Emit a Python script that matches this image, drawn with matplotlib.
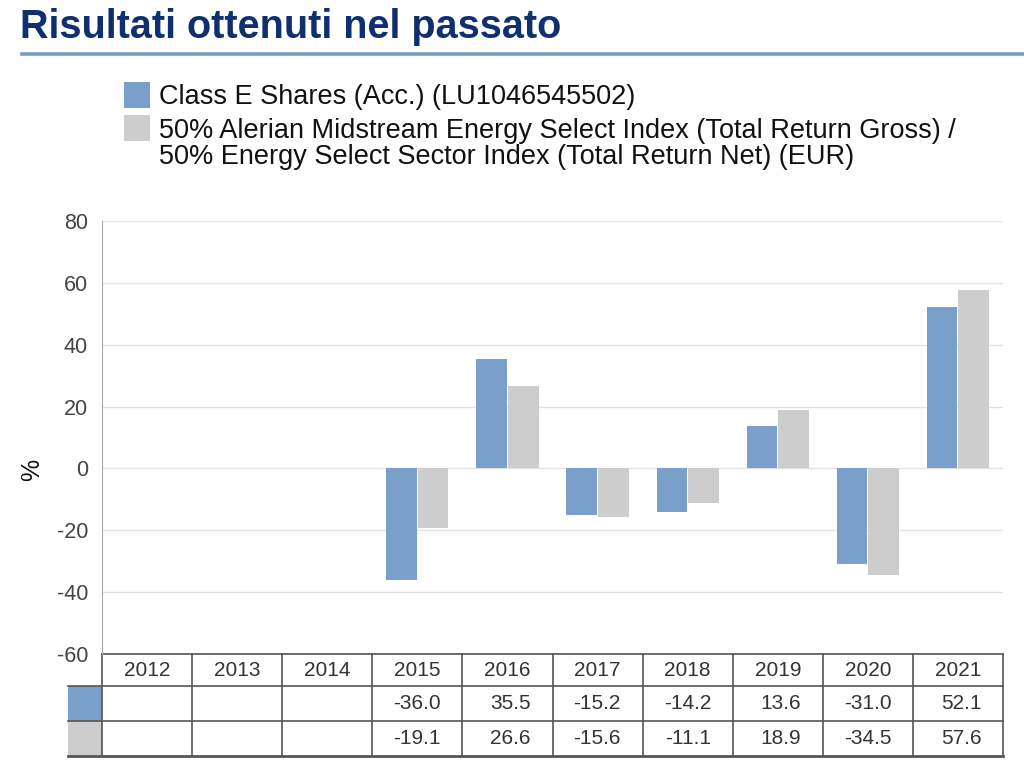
import matplotlib

matplotlib.use("Agg")
import matplotlib.pyplot as plt
from matplotlib.patches import Rectangle
from matplotlib.lines import Line2D

plt.rcParams["font.family"] = ["Liberation Sans", "DejaVu Sans"]
plt.rcParams["axes.unicode_minus"] = False

years = ["2012", "2013", "2014", "2015", "2016", "2017", "2018", "2019", "2020", "2021"]
fund = [None, None, None, -36.0, 35.5, -15.2, -14.2, 13.6, -31.0, 52.1]
bench = [None, None, None, -19.1, 26.6, -15.6, -11.1, 18.9, -34.5, 57.6]
fund_label = "Class E Shares (Acc.) (LU1046545502)"
bench_label = ("50% Alerian Midstream Energy Select Index (Total Return Gross) /\n"
               "50% Energy Select Sector Index (Total Return Net) (EUR)")

BLUE = "#7a9fcb"
GREY = "#cdcdcd"
NAVY = "#0f2f6e"

W, H = 1024, 777
fig = plt.figure(figsize=(W / 100, H / 100), dpi=100)


def fx(px):
    return px / W


def fy(py):
    return 1 - py / H


# title and rule
fig.text(fx(20), fy(27), "Risultati ottenuti nel passato", fontsize=28.5,
         fontweight="bold", color=NAVY, va="center", ha="left")
fig.add_artist(Line2D([fx(22), 1.0], [fy(54), fy(54)], color="#7b9ac4", lw=2.6))

# legend
fig.add_artist(Rectangle((fx(124), fy(108)), fx(26), 26 / H,
                         facecolor=BLUE, edgecolor="none"))
fig.text(fx(159), fy(97), fund_label, fontsize=19.5, color="#111111",
         va="center", ha="left")
fig.add_artist(Rectangle((fx(124), fy(141)), fx(26), 26 / H,
                         facecolor=GREY, edgecolor="none"))
fig.text(fx(159), fy(144), bench_label, fontsize=19.5, color="#111111",
         va="center", ha="left", linespacing=1.05)

# chart
left, right, top, bottom = 102, 1003, 221, 654
ax = fig.add_axes([fx(left), fy(bottom), fx(right - left), (bottom - top) / H])
x = list(range(len(years)))
bw = 0.34
f_pts = [(i, v) for i, v in zip(x, fund) if v is not None]
b_pts = [(i, v) for i, v in zip(x, bench) if v is not None]
ax.bar([i - bw / 2 - 0.005 for i, _ in f_pts], [v for _, v in f_pts], bw,
       color=BLUE, zorder=3)
ax.bar([i + bw / 2 + 0.005 for i, _ in b_pts], [v for _, v in b_pts], bw,
       color=GREY, zorder=3)
ax.set_xlim(-0.5, len(years) - 0.5)
ax.set_ylim(-60, 80)
ax.set_yticks(range(-60, 81, 20))
ax.tick_params(axis="y", length=0, labelsize=15.5, labelcolor="#444444", pad=10)
ax.set_xticks([])
ax.grid(axis="y", color="#e4e4e4", lw=1, zorder=0)
for s in ["top", "right", "bottom"]:
    ax.spines[s].set_visible(False)
ax.spines["left"].set_color("#aaaaaa")
fig.text(fx(32), fy(470), "%", fontsize=18, rotation=90, color="#111111",
         ha="center", va="center")

# table below the chart
axh = bottom - top
r0, r1, r2, r3 = 0, -32 / axh, -67 / axh, -102 / axh
tr = ax.get_xaxis_transform()
lc = "#555555"
sw = -0.5 - 34 / ((right - left) / len(years))
kw = dict(transform=tr, clip_on=False, color=lc, lw=1.2)
ax.add_line(Line2D([-0.5, 9.5], [r0, r0], **kw))
ax.add_line(Line2D([sw, 9.5], [r1, r1], **kw))
ax.add_line(Line2D([sw, 9.5], [r2, r2], **kw))
ax.add_line(Line2D([sw, 9.5], [r3, r3], transform=tr, clip_on=False, color=lc, lw=2))
ax.add_line(Line2D([-0.5, -0.5], [r0, r3], **kw))
for k in range(len(years)):
    ax.add_line(Line2D([k + 0.5, k + 0.5], [r0, r3], **kw))
ax.add_patch(Rectangle((sw, r2), -0.5 - sw, r1 - r2, transform=tr, clip_on=False,
                       facecolor=BLUE, edgecolor="none"))
ax.add_patch(Rectangle((sw, r3), -0.5 - sw, r2 - r3, transform=tr, clip_on=False,
                       facecolor=GREY, edgecolor="none"))
for i, yr in enumerate(years):
    ax.text(i, (r0 + r1) / 2, yr, transform=tr, ha="center", va="center",
            fontsize=15, color="#333333")
    for vals, ry in [(fund, (r1 + r2) / 2), (bench, (r2 + r3) / 2)]:
        if vals[i] is not None:
            ax.text(i + 0.5 - 0.24, ry, f"{vals[i]:.1f}", transform=tr, ha="right",
                    va="center", fontsize=15, color="#333333")

fig.savefig("out.png", dpi=100)
